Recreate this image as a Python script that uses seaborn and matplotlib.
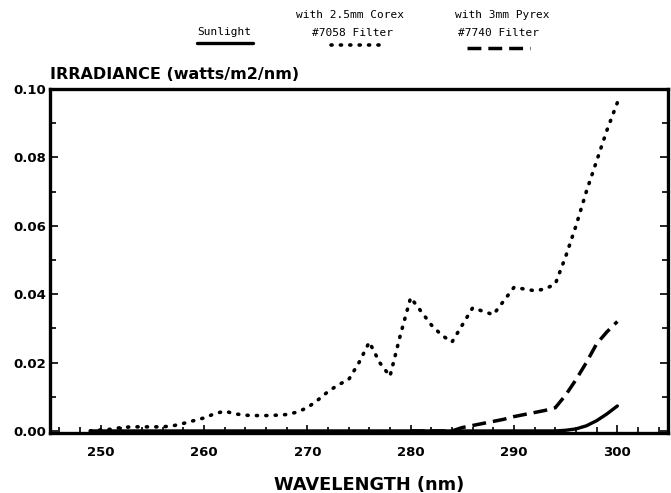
import numpy as np
import pandas as pd
import seaborn as sns
import matplotlib.pyplot as plt
from matplotlib.lines import Line2D
from matplotlib.ticker import MultipleLocator

# wavelength grid (nm) and irradiance (watts/m2/nm)
wavelength = list(range(249, 301))

corex = [0.0000, 0.0003, 0.0005, 0.0010, 0.0012, 0.0012, 0.0012, 0.0012,
         0.0015, 0.0022, 0.0030, 0.0038, 0.0050, 0.0058, 0.0050, 0.0046,
         0.0045, 0.0045, 0.0046, 0.0048, 0.0055, 0.0068, 0.0090, 0.0115,
         0.0135, 0.0150, 0.0200, 0.0260, 0.0200, 0.0160, 0.0280, 0.0390,
         0.0350, 0.0310, 0.0280, 0.0260, 0.0310, 0.0360, 0.0350, 0.0340,
         0.0380, 0.0420, 0.0415, 0.0410, 0.0415, 0.0430, 0.0510, 0.0600,
         0.0700, 0.0790, 0.0880, 0.0960]

pyrex_wl = [280, 282, 284, 285, 286, 287, 288, 289, 290, 291, 292, 293,
            294, 295, 296, 297, 298, 299, 300]
pyrex = [0.0000, 0.0000, 0.0000, 0.0010, 0.0016, 0.0022, 0.0028, 0.0034,
         0.0042, 0.0048, 0.0054, 0.0060, 0.0068, 0.0105, 0.0150, 0.0200,
         0.0255, 0.0290, 0.0320]

sun_wl = [249, 260, 270, 280, 290, 294, 295, 296, 297, 298, 299, 300]
sun = [0.0000, 0.0000, 0.0000, 0.0000, 0.0000, 0.0000, 0.0002, 0.0006,
       0.0015, 0.0030, 0.0050, 0.0073]

sns.set_style("ticks")
plt.rcParams['font.family'] = ['DejaVu Sans']
plt.rcParams['text.color'] = 'black'
plt.rcParams['xtick.color'] = 'black'
plt.rcParams['ytick.color'] = 'black'
plt.rcParams['axes.labelcolor'] = 'black'

fig = plt.figure(figsize=(6.71, 4.93), dpi=100)
ax = fig.add_axes([0.0745, 0.1217, 0.921, 0.6978])

df_corex = pd.DataFrame({"wl": wavelength, "irr": corex})
df_pyrex = pd.DataFrame({"wl": pyrex_wl, "irr": pyrex})
df_sun = pd.DataFrame({"wl": sun_wl, "irr": sun})

dot_style = (0, (0.3, 2.3))
dash_style = (0, (4, 2))

sns.lineplot(data=df_corex, x="wl", y="irr", ax=ax, color="black",
             linewidth=2.6, linestyle=dot_style, dash_capstyle="round")
sns.lineplot(data=df_pyrex, x="wl", y="irr", ax=ax, color="black",
             linewidth=2.5, linestyle=dash_style)
sns.lineplot(data=df_sun, x="wl", y="irr", ax=ax, color="black",
             linewidth=2.4)

ax.set_xlim(245.1, 304.9)
ax.set_ylim(-0.0006, 0.1)
ax.xaxis.set_major_locator(MultipleLocator(10))
ax.xaxis.set_minor_locator(MultipleLocator(2))
ax.yaxis.set_major_locator(MultipleLocator(0.02))
ax.yaxis.set_minor_locator(MultipleLocator(0.01))
ax.yaxis.set_major_formatter(plt.FuncFormatter(lambda v, p: f"{v:.2f}"))

ax.tick_params(axis="both", which="both", direction="in", right=True,
               width=1.2, color="black", labelcolor="black")
ax.tick_params(which="major", length=6)
ax.tick_params(which="minor", length=4)
ax.tick_params(axis="x", pad=9)
ax.tick_params(axis="y", pad=3)
for lab in ax.get_xticklabels() + ax.get_yticklabels():
    lab.set_fontweight("bold")
    lab.set_fontsize(9.5)

for sp in ax.spines.values():
    sp.set_linewidth(2.4)
    sp.set_color("black")

ax.set_xlabel("WAVELENGTH (nm)", fontsize=12.8, fontweight="bold")
ax.xaxis.set_label_coords(0.516, -0.125)
ax.set_ylabel("")
ax.text(0.0, 1.02, "IRRADIANCE (watts/m2/nm)", transform=ax.transAxes,
        fontsize=11.5, fontweight="bold", ha="left", va="bottom")

# legend drawn above the plot: text over a sample of each line
mono = dict(family="DejaVu Sans Mono", fontsize=8, ha="center", va="center")
fig.text(224 / 671, 1 - 32 / 493, "Sunlight", **mono)
fig.text(350 / 671, 1 - 15 / 493, "with 2.5mm Corex", **mono)
fig.text(353 / 671, 1 - 33 / 493, "#7058 Filter", **mono)
fig.text(502 / 671, 1 - 15 / 493, "with 3mm Pyrex", **mono)
fig.text(499 / 671, 1 - 33 / 493, "#7740 Filter", **mono)

fig.lines.append(Line2D([197 / 671, 253 / 671], [1 - 43 / 493] * 2,
                        transform=fig.transFigure, color="black", lw=2.4))
fig.lines.append(Line2D([331 / 671, 387 / 671], [1 - 45 / 493] * 2,
                        transform=fig.transFigure, color="black", lw=2.6,
                        linestyle=dot_style, dash_capstyle="round"))
fig.lines.append(Line2D([467 / 671, 530 / 671], [1 - 48 / 493] * 2,
                        transform=fig.transFigure, color="black", lw=2.5,
                        linestyle=dash_style))

fig.savefig("out.png", dpi=100)
